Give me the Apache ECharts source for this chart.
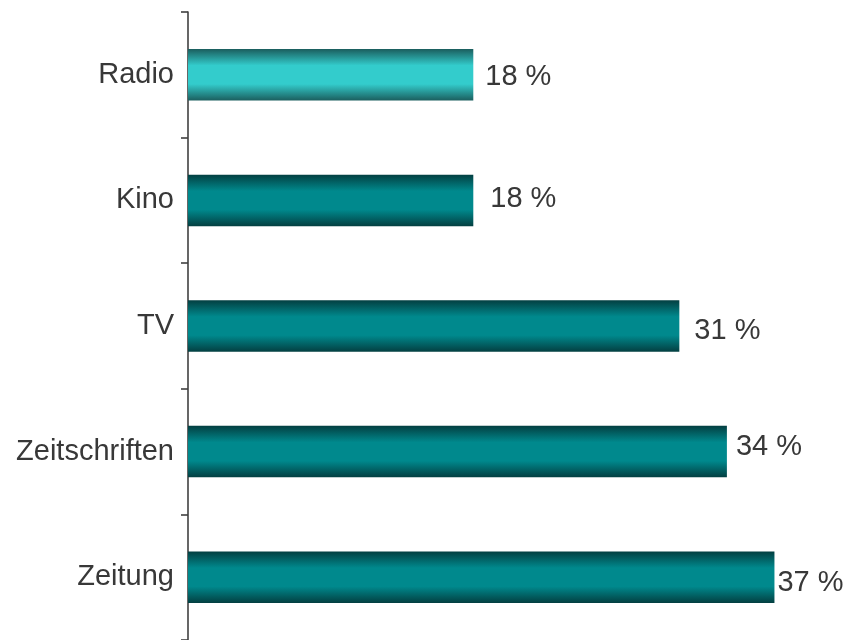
<!DOCTYPE html>
<html>
<head>
<meta charset="utf-8">
<script src="https://cdn.jsdelivr.net/npm/echarts@6/dist/echarts.min.js"></script>
<style>
  html, body { margin: 0; padding: 0; background: #fff; }
  #chart { width: 847px; height: 640px; }
</style>
</head>
<body>
<div id="chart"></div>
<script>
// Media categories, top to bottom
const categories = ['Radio', 'Kino', 'TV', 'Zeitschriften', 'Zeitung'];
// Share in percent
const values = [18, 18, 31, 34, 37];

// Per-bar placement of the value labels: gap from bar end and vertical nudge
const labelGap = [12, 17, 15, 9, 3];
const labelNudgeY = [2, -1, 5, -5, 6];

function shade(edge, mid) {
  return new echarts.graphic.LinearGradient(0, 0, 0, 1, [
    { offset: 0, color: edge },
    { offset: 0.32, color: mid },
    { offset: 0.5, color: mid },
    { offset: 0.68, color: mid },
    { offset: 1, color: edge }
  ]);
}

const barData = values.map((v, i) => ({
  value: v,
  itemStyle: {
    color: i === 0 ? shade('#1b5e5e', '#33cccc') : shade('#033f41', '#00898d')
  },
  label: { distance: labelGap[i], offset: [0, labelNudgeY[i]] }
}));

const chart = echarts.init(document.getElementById('chart'));
chart.setOption({
  animation: false,
  grid: { left: 188, right: 25, top: 12, height: 634, containLabel: false },
  xAxis: {
    type: 'value', min: 0, max: 40,
    show: false
  },
  yAxis: {
    type: 'category',
    data: categories,
    inverse: true,
    axisLine: { show: true, lineStyle: { color: '#404040', width: 1.6 } },
    axisTick: { show: true, length: 7, lineStyle: { color: '#404040', width: 1.6 } },
    axisLabel: {
      margin: 14,
      color: '#383838',
      fontFamily: 'Liberation Sans, Arial, sans-serif',
      fontSize: 29,
      padding: [2, 0, 0, 0]
    }
  },
  series: [{
    type: 'bar',
    data: barData,
    barWidth: '41%',
    label: {
      show: true,
      position: 'right',
      formatter: p => p.value + ' %',
      color: '#383838',
      fontFamily: 'Liberation Sans, Arial, sans-serif',
      fontSize: 29
    }
  }]
});
</script>
</body>
</html>
